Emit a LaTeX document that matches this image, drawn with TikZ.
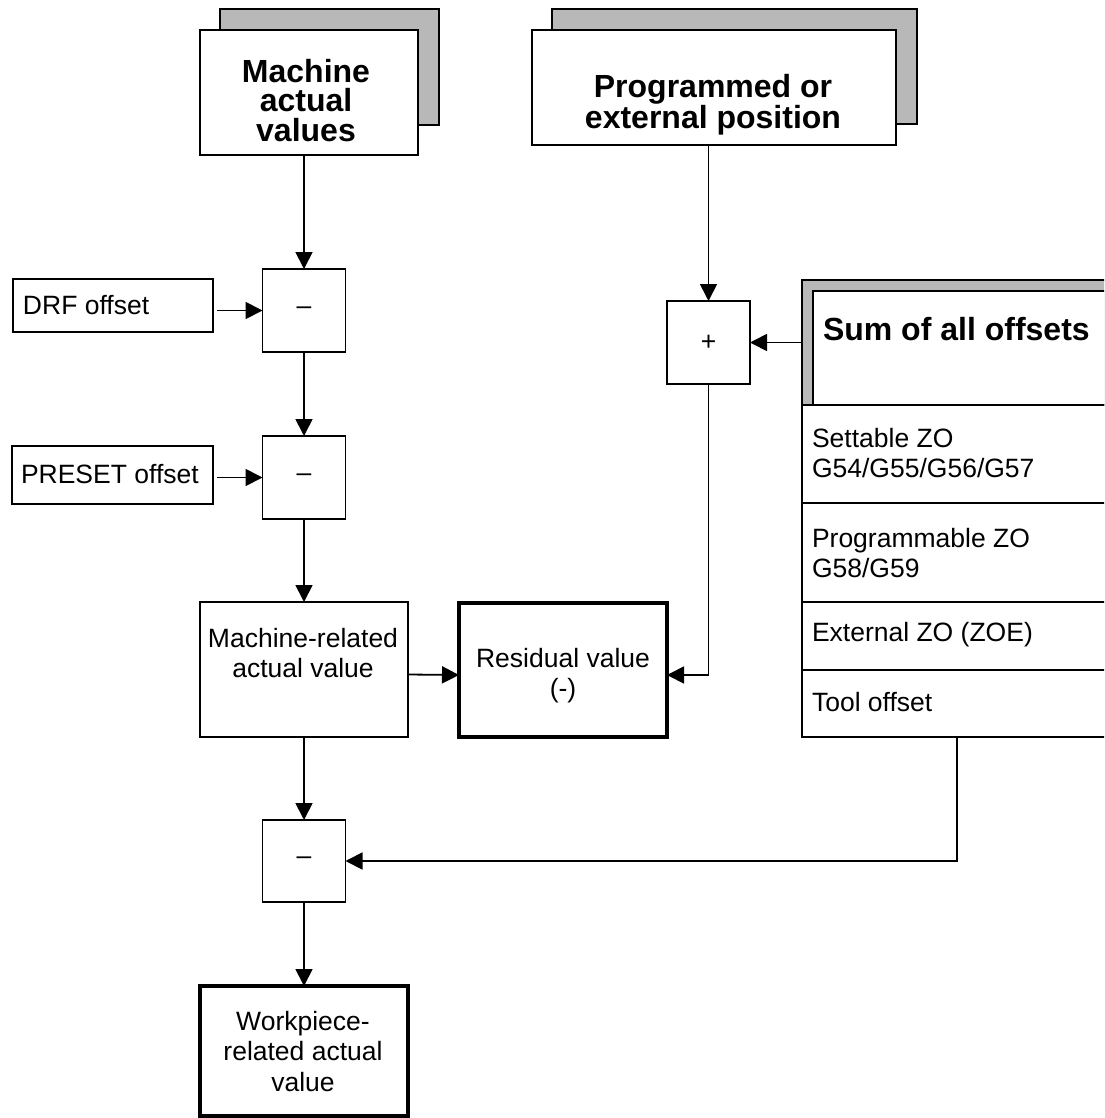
\documentclass[tikz,border=0pt]{standalone}
\usepackage{fontspec}
\setmainfont{Liberation Sans}
\usetikzlibrary{arrows.meta}
\begin{document}
\begin{tikzpicture}[x=1pt,y=-1pt,
  every node/.style={inner sep=0pt,outer sep=0pt},
  box/.style={draw,line width=1.8pt,fill=white,rectangle},
  heavybox/.style={draw,line width=4pt,fill=white,rectangle},
  shadowfill/.style={draw,line width=1.8pt,fill=black!28},
  txt/.style={font=\fontsize{26.5}{30.5}\selectfont},
  head/.style={font=\fontsize{32}{29.5}\selectfont\bfseries},
  link/.style={line width=1.8pt},
  arr/.style={line width=1.8pt,-{Triangle[length=17pt,width=17pt]}}]
\useasboundingbox (0,0) rectangle (1104,1118);
\clip (0,0) rectangle (1104,1118);

% --- input blocks with drop shadows ---
\draw[shadowfill] (220,9) rectangle (439,125);
\node[box,minimum width=218pt,minimum height=125pt] (mav) at (309,92.5) {};
\node[head,align=center,anchor=north] (mavt) at (306,59) {Machine\\actual\\values};

\draw[shadowfill] (552,9) rectangle (917,124);
\node[box,minimum width=364pt,minimum height=115pt] (pep) at (714,87.5) {};
\node[head,align=center,anchor=north] (pept) at (713,74) {Programmed or\\external position};

% --- offset sum block (runs off the right edge) ---
\node[shadowfill,minimum width=308pt,minimum height=125pt] (sum) at (956,342.5) {};
\draw[box] (813,291) rectangle (1112,405);
\node[head,anchor=base west] (sumt) at (823,340) {Sum of all offsets};

\node[box,minimum width=308pt,minimum height=332pt] (list) at (956,571) {};
\draw[link] (802,503) -- (1110,503);
\draw[link] (802,602) -- (1110,602);
\draw[link] (802,670) -- (1110,670);
\node[txt,align=left,anchor=north west] (zo1) at (812,428) {Settable ZO\\G54/G55/G56/G57};
\node[txt,align=left,anchor=north west] (zo2) at (812,528) {Programmable ZO\\G58/G59};
\node[txt,anchor=base west] (zo3) at (812,641.7) {External ZO (ZOE)};
\node[txt,anchor=base west] (zo4) at (812,711.7) {Tool offset};

% --- operation blocks ---
\node[box,minimum width=83pt,minimum height=83pt,txt] (sub1) at (304,310.5) {\textendash};
\node[box,minimum width=200pt,minimum height=53pt] (drf) at (113,305.5) {};
\node[txt,anchor=base west] (drft) at (23,314) {DRF offset};

\node[box,minimum width=83pt,minimum height=83pt,txt] (sub2) at (304,477.5) {\textendash};
\node[box,minimum width=201pt,minimum height=58pt] (preset) at (112.5,475) {};
\node[txt,anchor=base west] (presett) at (21,483.5) {PRESET offset};

\node[box,minimum width=83pt,minimum height=83pt,txt] (plus) at (708.5,342.5) {+};

\node[box,minimum width=208pt,minimum height=135pt] (mra) at (304,669.5) {};
\node[txt,align=center,anchor=north] (mrat) at (303,628) {Machine-related\\actual value};

\node[heavybox,minimum width=208pt,minimum height=134pt] (res) at (563,670) {};
\node[txt,align=center,anchor=north] (rest) at (563,648) {Residual value\\(-)};

\node[box,minimum width=83pt,minimum height=82pt,txt] (sub3) at (304,861) {\textendash};

\node[heavybox,minimum width=208pt,minimum height=130pt] (wp) at (304,1051) {};
\node[txt,align=center,anchor=north] (wpt) at (303,1011) {Workpiece-\\related actual\\value};

% --- connectors ---
\draw[arr] (sub1.north |- mav.south) -- (sub1.north);
\draw[arr,shorten <=4pt] (drf.east |- sub1.west) -- (sub1.west);
\draw[arr] (sub1.south) -- (sub2.north);
\draw[arr,shorten <=4pt] (preset.east |- sub2.west) -- (sub2.west);
\draw[arr] (sub2.south) -- (sub2.south |- mra.north);
\draw[arr] ([yshift=-5pt]mra.east) -- ([yshift=-5pt]res.west);
\draw[arr] (plus.north |- pep.south) -- (plus.north);
\draw[arr] (sum.west |- plus.east) -- (plus.east);
\draw[arr] (plus.south) |- ([yshift=-5pt]res.east);
\draw[arr] (sub3.north |- mra.south) -- (sub3.north);
\coordinate (tooltap) at (957,737);
\draw[arr] (tooltap) |- (sub3.east);
\draw[arr] (sub3.south) -- (sub3.south |- wp.north);
\end{tikzpicture}
\end{document}
